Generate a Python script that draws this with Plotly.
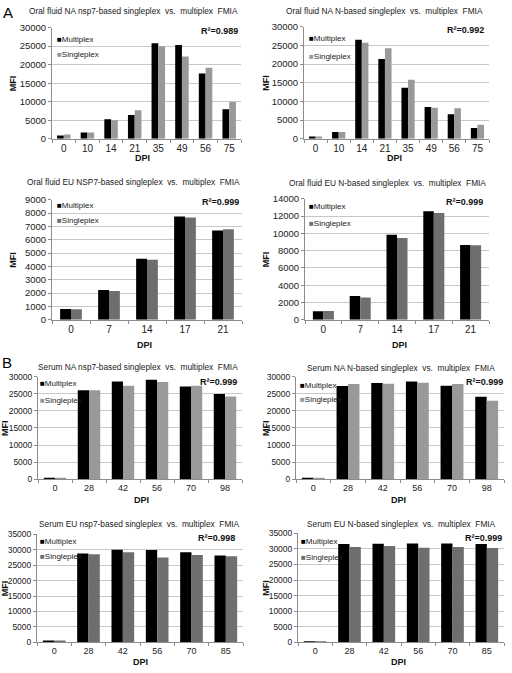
import plotly.graph_objects as go

W, H = 512, 673

# ---------------- data ----------------
dpi_of_na = ["0", "10", "14", "21", "35", "49", "56", "75"]
of_na_nsp7_multi = [900, 1700, 5300, 6450, 25800, 25300, 17600, 7950]
of_na_nsp7_single = [1150, 1700, 5000, 7700, 25000, 22200, 19200, 9900]
of_na_n_multi = [600, 1850, 26500, 21350, 13650, 8500, 6550, 2900]
of_na_n_single = [600, 1850, 25700, 24200, 15800, 8300, 8200, 3750]

dpi_of_eu = ["0", "7", "14", "17", "21"]
of_eu_nsp7_multi = [810, 2230, 4580, 7740, 6690]
of_eu_nsp7_single = [790, 2160, 4510, 7670, 6790]
of_eu_n_multi = [980, 2760, 9840, 12560, 8660]
of_eu_n_single = [1020, 2570, 9460, 12370, 8630]

dpi_se_na = ["0", "28", "42", "56", "70", "98"]
se_na_nsp7_multi = [200, 26060, 28650, 29130, 27200, 25000]
se_na_nsp7_single = [100, 26060, 27400, 28460, 27400, 24230]
se_na_n_multi = [380, 27300, 28200, 28660, 27420, 24160]
se_na_n_single = [380, 27900, 28000, 28280, 27900, 23000]

dpi_se_eu = ["0", "28", "42", "56", "70", "85"]
se_eu_nsp7_multi = [600, 28740, 30010, 29900, 29160, 28100]
se_eu_nsp7_single = [600, 28530, 29160, 27470, 28310, 27890]
se_eu_n_multi = [200, 31520, 31620, 31730, 31730, 31520]
se_eu_n_single = [200, 30570, 30880, 30360, 30570, 30250]

titles = [
    "Oral fluid NA nsp7-based singleplex  vs.  multiplex  FMIA",
    "Oral fluid NA N-based singleplex  vs.  multiplex  FMIA",
    "Oral fluid EU NSP7-based singleplex  vs.  multiplex  FMIA",
    "Oral fluid EU N-based singleplex  vs.  multiplex  FMIA",
    "Serum NA nsp7-based singleplex  vs.  multiplex  FMIA",
    "Serum NA N-based singleplex  vs.  multiplex  FMIA",
    "Serum EU nsp7-based singleplex  vs.  multiplex  FMIA",
    "Serum EU N-based singleplex  vs.  multiplex  FMIA",
]
r2_labels = ["0.989", "0.992", "0.999", "0.999", "0.999", "0.999", "0.998", "0.999"]
series_names = ["Multiplex", "Singleplex"]

# ---------------- layout (pixel geometry) ----------------
panels = [
    dict(x=(52, 241), y=(22, 135), cats=dpi_of_na, m=of_na_nsp7_multi, s=of_na_nsp7_single,
         ymax=30000, dt=5000, sc="#999999", tfs=9.5, bw=0.2857,
         title=(133, 5), leg=(55, 34, 49), r2=(240, 25), mfi=13, dpi=(142, 155)),
    dict(x=(304, 489), y=(21, 135), cats=dpi_of_na, m=of_na_n_multi, s=of_na_n_single,
         ymax=30000, dt=5000, sc="#999999", tfs=9.5, bw=0.2857,
         title=(384, 5), leg=(307, 33, 51), r2=(486, 24), mfi=266, dpi=(394, 155)),
    dict(x=(52, 242), y=(197, 319), cats=dpi_of_eu, m=of_eu_nsp7_multi, s=of_eu_nsp7_single,
         ymax=9000, dt=1000, sc="#6e6e6e", tfs=9.5, bw=0.2857,
         title=(133, 179), leg=(55, 203, 218), r2=(241, 199), mfi=13, dpi=(144, 345)),
    dict(x=(305, 489), y=(196, 319), cats=dpi_of_eu, m=of_eu_n_multi, s=of_eu_n_single,
         ymax=14000, dt=2000, sc="#6e6e6e", tfs=9.5, bw=0.2857,
         title=(387, 180), leg=(307, 204, 221), r2=(485, 199), mfi=266, dpi=(399, 345)),
    dict(x=(38, 242), y=(377, 481), cats=dpi_se_na, m=se_na_nsp7_multi, s=se_na_nsp7_single,
         ymax=30000, dt=5000, sc="#999999", tfs=8.5, bw=0.33,
         title=(138, 367), leg=(38, 384, 401), r2=(239, 382), mfi=5, dpi=(141, 502)),
    dict(x=(296, 504), y=(377, 481), cats=dpi_se_na, m=se_na_n_multi, s=se_na_n_single,
         ymax=30000, dt=5000, sc="#999999", tfs=8.5, bw=0.33,
         title=(401, 368), leg=(298, 386, 400), r2=(505, 382), mfi=266, dpi=(398, 502)),
    dict(x=(37, 243), y=(537, 647), cats=dpi_se_eu, m=se_eu_nsp7_multi, s=se_eu_nsp7_single,
         ymax=35000, dt=5000, sc="#6e6e6e", tfs=8.5, bw=0.33,
         title=(139, 527), leg=(38, 544, 560), r2=(237, 541), mfi=5, dpi=(140, 667)),
    dict(x=(298, 504), y=(536, 647), cats=dpi_se_eu, m=se_eu_n_multi, s=se_eu_n_single,
         ymax=35000, dt=5000, sc="#6e6e6e", tfs=8.5, bw=0.33,
         title=(401, 527), leg=(299, 544, 561), r2=(504, 541), mfi=266, dpi=(398, 667)),
]

FONT = "Liberation Sans, Arial, sans-serif"

def px(v):
    return v / W

def py(v):
    return 1 - v / H

fig = go.Figure()
annotations = []
layout_axes = {}

for i, p in enumerate(panels):
    k = "" if i == 0 else str(i + 1)
    xa, ya = "x" + k, "y" + k
    bw = p["bw"]
    for name, vals, col, off in [(series_names[0], p["m"], "#000000", -bw),
                                 (series_names[1], p["s"], p["sc"], 0.0)]:
        fig.add_trace(go.Bar(x=p["cats"], y=vals, name=name, marker_color=col,
                             marker_line_width=0, width=bw, offset=off,
                             xaxis=xa, yaxis=ya, showlegend=False))
    layout_axes["xaxis" + k] = dict(
        domain=[px(p["x"][0]), px(p["x"][1])], anchor=ya, type="category",
        showline=True, linecolor="#8c8c8c", linewidth=1, ticks="outside",
        tickson="boundaries", ticklen=3, tickcolor="#8c8c8c", showgrid=False,
        tickfont=dict(family=FONT, size=p["tfs"] + 0.5, color="#222"), zeroline=False)
    layout_axes["yaxis" + k] = dict(
        domain=[py(p["y"][1]), py(p["y"][0])], anchor=xa, range=[0, p["ymax"]],
        dtick=p["dt"], tick0=0, tickformat="d", showline=True, linecolor="#8c8c8c",
        linewidth=1, ticks="outside", ticklen=3, tickcolor="#8c8c8c", showgrid=True,
        gridcolor="#c8c8c8", gridwidth=1, zeroline=False,
        tickfont=dict(family=FONT, size=p["tfs"], color="#222"))
    annotations.append(dict(xref="paper", yref="paper", x=px(p["title"][0]), y=py(p["title"][1]),
                            text=titles[i], showarrow=False, xanchor="center", yanchor="middle",
                            font=dict(family=FONT, size=8.3, color="#222")))
    lx, ly1, ly2 = p["leg"]
    for name, col, yy in [(series_names[0], "#000000", ly1), (series_names[1], p["sc"], ly2)]:
        annotations.append(dict(xref="paper", yref="paper", x=px(lx), y=py(yy),
                                text="<span style='color:%s;font-size:8px'>■</span>%s" % (col, name),
                                showarrow=False, xanchor="left", yanchor="middle",
                                font=dict(family=FONT, size=8, color="#222")))
    annotations.append(dict(xref="paper", yref="paper", x=px(p["r2"][0]), y=py(p["r2"][1]),
                            text="<b>R²=%s</b>" % r2_labels[i], showarrow=False,
                            xanchor="right", yanchor="middle",
                            font=dict(family=FONT, size=9, color="#111")))
    annotations.append(dict(xref="paper", yref="paper", x=px(p["mfi"]),
                            y=py((p["y"][0] + p["y"][1]) / 2), text="<b>MFI</b>",
                            textangle=-90, showarrow=False, xanchor="center", yanchor="middle",
                            font=dict(family=FONT, size=9, color="#111")))
    annotations.append(dict(xref="paper", yref="paper", x=px(p["dpi"][0]), y=py(p["dpi"][1]),
                            text="<b>DPI</b>", showarrow=False, xanchor="center", yanchor="middle",
                            font=dict(family=FONT, size=9, color="#111")))

annotations.append(dict(xref="paper", yref="paper", x=px(1), y=py(7), text="A", showarrow=False,
                        xanchor="left", yanchor="middle", font=dict(family=FONT, size=15, color="#000")))
annotations.append(dict(xref="paper", yref="paper", x=px(0), y=py(362), text="B", showarrow=False,
                        xanchor="left", yanchor="middle", font=dict(family=FONT, size=15, color="#000")))

fig.update_layout(width=W, height=H, margin=dict(l=0, r=0, t=0, b=0),
                  paper_bgcolor="white", plot_bgcolor="white", barmode="overlay",
                  annotations=annotations, **layout_axes)

fig.write_html("out.html", config={"displayModeBar": False},
               post_script="document.body.style.margin='0px';document.body.style.overflow='hidden';")
